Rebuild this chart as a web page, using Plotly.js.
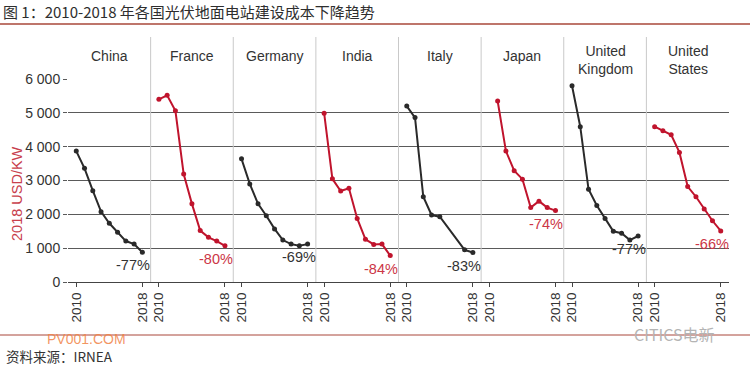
<!DOCTYPE html>
<html>
<head>
<meta charset="utf-8">
<script src="https://cdn.plot.ly/plotly-3.0.1.min.js"></script>
<style>
  html, body { margin: 0; padding: 0; background: #fff; }
  #chart { width: 750px; height: 367px; }
</style>
</head>
<body>
<div id="chart"></div>
<script>
// ---- Data ----
const countries = ["China", "France", "Germany", "India", "Italy", "Japan", "United<br>Kingdom", "United<br>States"];
const yearsFull = [2010, 2011, 2012, 2013, 2014, 2015, 2016, 2017, 2018];
const yearsItaly = [2010, 2011, 2012, 2013, 2014, 2017, 2018];
const yearsJapan = [2011, 2012, 2013, 2014, 2015, 2016, 2017, 2018];

const china   = [3870, 3360, 2700, 2080, 1735, 1470, 1210, 1120, 880];
const france  = [5400, 5520, 5060, 3190, 2310, 1520, 1320, 1210, 1070];
const germany = [3640, 2900, 2310, 1960, 1570, 1240, 1120, 1070, 1120];
const india   = [4990, 3050, 2690, 2770, 1880, 1260, 1110, 1120, 780];
const italy   = [5200, 4860, 2520, 1980, 1930, 950, 870];
const japan   = [5350, 3870, 3290, 3040, 2200, 2390, 2200, 2110];
const uk      = [5800, 4590, 2740, 2260, 1880, 1500, 1440, 1240, 1360];
const us      = [4590, 4470, 4350, 3830, 2820, 2520, 2160, 1810, 1510];

const changeLabels = ["-77%", "-80%", "-69%", "-84%", "-83%", "-74%", "-77%", "-66%"];
const xTickVals = [2010, 2018];
const yTickVals = [0, 1000, 2000, 3000, 4000, 5000, 6000];

// ---- Build ----
const seriesX = [yearsFull, yearsFull, yearsFull, yearsFull, yearsItaly, yearsJapan, yearsFull, yearsFull];
const seriesY = [china, france, germany, india, italy, japan, uk, us];

const DARK = "#2a2a2a";
const RED = "#c0142d";
const font = "Liberation Sans, Arial, sans-serif";
const cjk = "Noto Sans CJK SC, sans-serif";

const W = 750, H = 367;
const M = {l: 68, r: 21, t: 79, b: 85};
const PW = W - M.l - M.r, PH = H - M.t - M.b;
const px = v => (v - M.l) / PW;           // page x -> paper
const py = v => (H - M.b - v) / PH;       // page y -> paper

const n = countries.length;
const traces = [];
const layout = {
  width: W, height: H,
  margin: M,
  paper_bgcolor: "#fff", plot_bgcolor: "#fff",
  showlegend: false,
  separators: ". ",
  font: {family: font, color: "#333", size: 14},
  title: {
    text: "图 1：2010-2018 年各国光伏地面电站建设成本下降趋势",
    font: {family: cjk, size: 15, color: "#2e2e2e"},
    x: 0.004, xanchor: "left", xref: "container",
    y: 1 - 12.5 / H, yanchor: "middle", yref: "container"
  },
  yaxis: {
    range: [0, 6000],
    tickvals: yTickVals,
    tickformat: ",d",
    showgrid: true, gridcolor: "#5a5a5a", gridwidth: 1,
    zeroline: false, showline: false,
    ticks: "outside", ticklen: 4, tickcolor: "#5a5a5a",
    tickfont: {family: font, size: 14, color: "#333"},
    anchor: "x", fixedrange: true
  },
  shapes: [],
  annotations: []
};

for (let i = 0; i < n; i++) {
  const ax = i === 0 ? "x" : "x" + (i + 1);
  const axKey = i === 0 ? "xaxis" : "xaxis" + (i + 1);
  const color = i % 2 === 0 ? DARK : RED;
  layout[axKey] = {
    domain: [i / n, (i + 1) / n],
    range: [2009, 2019],
    anchor: "y",
    tickvals: xTickVals,
    ticktext: xTickVals.map(String),
    tickangle: -90,
    ticks: "outside", ticklen: 4, tickcolor: "#444",
    showline: true, linecolor: "#444", linewidth: 1,
    showgrid: false, zeroline: false,
    tickfont: {family: font, size: 13.5, color: "#333"},
    fixedrange: true
  };
  traces.push({
    type: "scatter", mode: "lines+markers",
    x: seriesX[i], y: seriesY[i],
    xaxis: ax, yaxis: "y",
    line: {color: color, width: 2},
    marker: {color: color, size: 5},
    hoverinfo: "skip"
  });
  // panel title
  const twoLine = countries[i].indexOf("<br>") >= 0;
  layout.annotations.push({
    xref: "paper", yref: "paper",
    x: (i + 0.5) / n, y: py(twoLine ? 60 : 56),
    xanchor: "center", yanchor: "middle",
    text: countries[i], showarrow: false,
    font: {family: font, size: 14, color: "#333"}
  });
  // percentage label near the last point
  const xs = seriesX[i], ys = seriesY[i];
  layout.annotations.push({
    xref: ax, yref: "y",
    x: xs[xs.length - 1], y: ys[ys.length - 1],
    xanchor: "center", yanchor: "middle",
    xshift: -9, yshift: -13,
    text: changeLabels[i], showarrow: false,
    font: {family: font, size: 14.5, color: i % 2 === 0 ? "#333" : "#cc3646"}
  });
  // vertical separators
  if (i > 0) {
    layout.shapes.push({
      type: "line", xref: "paper", yref: "paper",
      x0: i / n, x1: i / n, y0: 0, y1: py(37),
      line: {color: "#c9c9c9", width: 1}
    });
  }
}

// y axis title
layout.annotations.push({
  xref: "paper", yref: "paper", x: px(17), y: py(194),
  xanchor: "center", yanchor: "middle", textangle: -90,
  text: "2018 USD/KW", showarrow: false,
  font: {family: font, size: 14.5, color: "#c8404c"}
});
// source
layout.annotations.push({
  xref: "paper", yref: "paper", x: px(4), y: py(356),
  xanchor: "left", yanchor: "middle",
  text: "资料来源：IRNEA", showarrow: false,
  font: {family: cjk, size: 13.5, color: "#333"}
});
// watermarks
layout.annotations.push({
  xref: "paper", yref: "paper", x: px(86), y: py(339),
  xanchor: "center", yanchor: "middle",
  text: "PV001.COM", showarrow: false,
  font: {family: font, size: 14, color: "rgba(240,130,70,0.85)"}
});
layout.annotations.push({
  xref: "paper", yref: "paper", x: px(674), y: py(334),
  xanchor: "center", yanchor: "middle",
  text: "CITICS电新", showarrow: false,
  font: {family: cjk, size: 16, color: "#b4b4b4"}
});

// header / footer rules
layout.shapes.push({
  type: "line", xref: "paper", yref: "paper",
  x0: px(0), x1: px(750), y0: py(24), y1: py(24),
  line: {color: "#a9473a", width: 1.5}
});
layout.shapes.push({
  type: "line", xref: "paper", yref: "paper",
  x0: px(0), x1: px(750), y0: py(335), y1: py(335),
  line: {color: "#a9473a", width: 1}
});

Plotly.newPlot("chart", traces, layout, {displayModeBar: false, staticPlot: true});
</script>
</body>
</html>
